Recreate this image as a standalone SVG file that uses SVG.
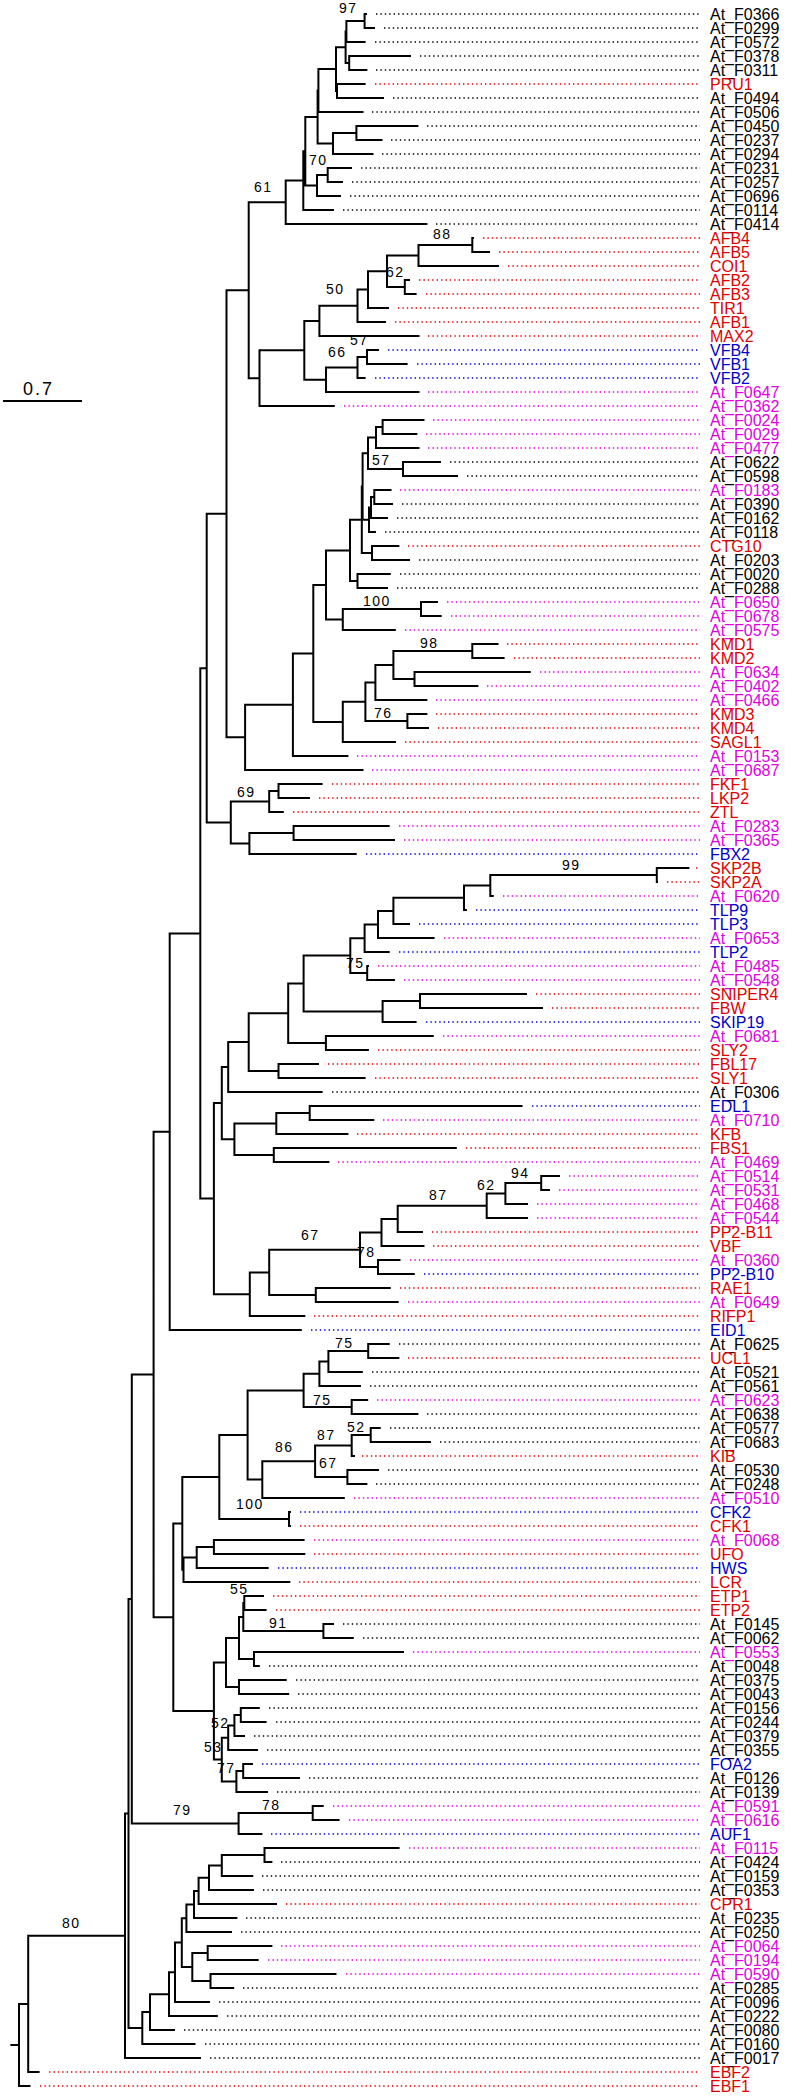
<svg xmlns="http://www.w3.org/2000/svg" width="800" height="2096" viewBox="0 0 800 2096">
<style>
.br{fill:none;stroke:#000;stroke-width:2;stroke-linecap:square}
.lf line{stroke-width:1.4;stroke-dasharray:1.4 3}
.lf text{font-family:"Liberation Sans",Arial,sans-serif;font-size:16px}
.k line{stroke:#000}.k text{fill:#000}
.r line{stroke:#e00000}.r text{fill:#e00000}
.b line{stroke:#0000c8}.b text{fill:#0000c8}
.m line{stroke:#e000e0}.m text{fill:#e000e0}
.bs{font-family:"Liberation Sans",Arial,sans-serif;font-size:14px;letter-spacing:1.5px;fill:#000}
</style>
<rect width="800" height="2096" fill="#fff"/>
<g id="scale"><line x1="3" y1="401" x2="82" y2="401" stroke="#000" stroke-width="2"/><text x="23" y="395" font-family="Liberation Sans,Arial,sans-serif" font-size="18" letter-spacing="2">0.7</text></g>
<g id="connectors">
<path class="br" d="M364.6 14V28M364.6 14H366M364.6 28H374
M346.4 21V42M346.4 21H364.6M346.4 42H364.6
M345.6 31.5V63M345.6 31.5H346.4M345.6 63H349.2
M349.2 56V70M349.2 56H410M349.2 70H366.4
M337 84V98M337 84H364.6M337 98H383
M336 47.25V91M336 47.25H345.6M336 91H337
M318.4 69.1V112M318.4 69.1H336M318.4 112H362.5
M317.6 90.55V143.5M317.6 90.55H318.4M317.6 143.5H333
M333 133V154M333 133H356.4M333 154H372.5
M356.4 126V140M356.4 126H417.4M356.4 140H381.5
M327.7 168V182M327.7 168H351M327.7 182H342
M317 175V196M317 175H327.7M317 196H340
M305.3 117V185.5M305.3 117H317.6M305.3 185.5H317
M303.3 151.25V210M303.3 151.25H305.3M303.3 210H333
M285.7 180.6V224M285.7 180.6H303.3M285.7 224H426.4
M248.7 202.3V378.2M248.7 202.3H285.7M248.7 378.2H259.5
M472.3 238V252M472.3 238H473M472.3 252H489
M418.5 245V266M418.5 245H472.3M418.5 266H498
M404.8 280V294M404.8 280H409M404.8 294H415.6
M387 255.5V287M387 255.5H418.5M387 287H404.8
M368 271.25V308M368 271.25H387M368 308H388
M357.5 289.6V322M357.5 289.6H368M357.5 322H385
M319.4 305.8V336M319.4 305.8H357.5M319.4 336H418.5
M367 350V364M367 350H378M367 364H406.6
M357.5 357V378M357.5 357H367M357.5 378H364.6
M326 367.5V392M326 367.5H357.5M326 392H418.5
M304.3 320.9V379.75M304.3 320.9H319.4M304.3 379.75H326
M259.5 350.3V406M259.5 350.3H304.3M259.5 406H333.8
M382.6 420V434M382.6 420H423.5M382.6 434H416.3
M376 427V448M376 427H382.6M376 448H418.5
M403 462V476M403 462H440M403 476H457
M368 437.5V469M368 437.5H376M368 469H403
M374.3 490V504M374.3 490H390.5M374.3 504H392
M371 497V518M371 497H374.3M371 518H387
M369 507.5V532M369 507.5H371M369 532H375
M372 546V560M372 546H398.4M372 560H409
M362.6 453.25V519.75M362.6 453.25H368M362.6 519.75H369
M361.8 486.5V553M361.8 486.5H362.6M361.8 553H372
M357.5 574V588M357.5 574H389.8M357.5 588H387
M350 519.75V581M350 519.75H361.8M350 581H357.5
M421 602V616M421 602H437M421 616H440.7
M342.8 609V630M342.8 609H421M342.8 630H394.8
M326 550.4V619.5M326 550.4H350M326 619.5H342.8
M472.3 644V658M472.3 644H497.5M472.3 658H503.6
M414.5 672V686M414.5 672H529.8M414.5 686H477.4
M393.4 651V679M393.4 651H472.3M393.4 679H414.5
M375.4 665V700M375.4 665H393.4M375.4 700H426.4
M407.4 714V728M407.4 714H426.4M407.4 728H428
M365.4 682.5V721M365.4 682.5H375.4M365.4 721H407.4
M342.8 701.75V742M342.8 701.75H365.4M342.8 742H395
M313.3 584.95V721.9M313.3 584.95H326M313.3 721.9H342.8
M292.9 653.4V756M292.9 653.4H313.3M292.9 756H347.4
M245.1 704.7V770M245.1 704.7H292.9M245.1 770H362.5
M226.5 290.25V737.35M226.5 290.25H248.7M226.5 737.35H245.1
M278.5 784V798M278.5 784H321.6M278.5 798H309
M269.2 791V812M269.2 791H278.5M269.2 812H282.8
M293.6 826V840M293.6 826H388.7M293.6 840H394
M249.4 833V854M249.4 833H293.6M249.4 854H355.7
M230.8 801.5V843.5M230.8 801.5H269.2M230.8 843.5H249.4
M206.7 513.8V822.5M206.7 513.8H226.5M206.7 822.5H230.8
M656.8 868V882M656.8 868H688.4M656.8 882H657
M490.3 875V896M490.3 875H656.8M490.3 896H492.8
M464 885.5V910M464 885.5H490.3M464 910H465.9
M393.4 897.75V924M393.4 897.75H464M393.4 924H409
M378 910.9V938M378 910.9H393.4M378 938H433.6
M364.6 924.4V952M364.6 924.4H378M364.6 952H388.7
M367.2 966V980M367.2 966H368M367.2 980H394
M350.3 938.2V973M350.3 938.2H364.6M350.3 973H367.2
M420 994V1008M420 994H526M420 1008H542
M382.6 1001V1022M382.6 1001H420M382.6 1022H415.6
M303.6 955.6V1011.5M303.6 955.6H350.3M303.6 1011.5H382.6
M325.9 1036V1050M325.9 1036H432.8M325.9 1050H367.9
M288.2 983.5V1043M288.2 983.5H303.6M288.2 1043H325.9
M278.5 1064V1078M278.5 1064H318M278.5 1078H364.6
M248.7 1013.3V1071M248.7 1013.3H288.2M248.7 1071H278.5
M228.2 1042.1V1092M228.2 1042.1H248.7M228.2 1092H321.6
M309.7 1106V1120M309.7 1106H521.5M309.7 1120H373.3
M276.3 1113V1134M276.3 1113H309.7M276.3 1134H347.4
M273.8 1148V1162M273.8 1148H455.8M273.8 1162H328.4
M234.4 1123.5V1155M234.4 1123.5H276.3M234.4 1155H273.8
M221.8 1067V1139.25M221.8 1067H228.2M221.8 1139.25H234.4
M541.2 1176V1190M541.2 1176H559M541.2 1190H549
M505.4 1183V1204M505.4 1183H541.2M505.4 1204H527
M486.7 1193.5V1218M486.7 1193.5H505.4M486.7 1218H527
M397.7 1205.75V1232M397.7 1205.75H486.7M397.7 1232H422
M381.5 1218.9V1246M381.5 1218.9H397.7M381.5 1246H423.5
M378 1260V1274M378 1260H399.5M378 1274H413.8
M360 1232.4V1267M360 1232.4H381.5M360 1267H378
M315.8 1288V1302M315.8 1288H389.8M315.8 1302H397.7
M269.2 1249.7V1295M269.2 1249.7H360M269.2 1295H315.8
M249.8 1272.4V1316M249.8 1272.4H269.2M249.8 1316H304.3
M213.9 1103.1V1294.2M213.9 1103.1H221.8M213.9 1294.2H249.8
M200.3 668.15V1198.6M200.3 668.15H206.7M200.3 1198.6H213.9
M169.7 933.4V1330M169.7 933.4H200.3M169.7 1330H300.8
M368.2 1344V1358M368.2 1344H388.7M368.2 1358H398.4
M328.4 1351V1372M328.4 1351H368.2M328.4 1372H361.8
M319.4 1361.5V1386M319.4 1361.5H328.4M319.4 1386H360
M351.7 1400V1414M351.7 1400H367.2M351.7 1414H417.4
M303.6 1373.75V1407M303.6 1373.75H319.4M303.6 1407H351.7
M370.7 1428V1442M370.7 1428H379.7M370.7 1442H430
M351.7 1435V1456M351.7 1435H370.7M351.7 1456H354
M347.4 1470V1484M347.4 1470H378M347.4 1484H366.4
M315.1 1445.5V1477M315.1 1445.5H351.7M315.1 1477H347.4
M262.3 1461.25V1498M262.3 1461.25H315.1M262.3 1498H343.8
M247.6 1390.4V1479.6M247.6 1390.4H303.6M247.6 1479.6H262.3
M289 1512V1526M289 1512H290M289 1526H290
M219.3 1435V1519M219.3 1435H247.6M219.3 1519H289
M213.9 1540V1554M213.9 1540H303.6M213.9 1554H304.3
M196.7 1547V1568M196.7 1547H213.9M196.7 1568H267.7
M183.5 1557.5V1582M183.5 1557.5H196.7M183.5 1582H289.3
M182.3 1477V1569.75M182.3 1477H219.3M182.3 1569.75H183.5
M323.4 1624V1638M323.4 1624H333M323.4 1638H352.8
M244.3 1596V1610M244.3 1596H263M244.3 1610H265.6
M243.3 1603V1631M243.3 1603H244.3M243.3 1631H323.4
M254 1652V1666M254 1652H403M254 1666H258.8
M239 1617V1659M239 1617H243.3M239 1659H254
M239 1680V1694M239 1680H285.7M239 1694H288.2
M226 1638V1687M226 1638H239M226 1687H239
M240.8 1708V1722M240.8 1708H258.8M240.8 1722H265.6
M234.4 1715V1736M234.4 1715H240.8M234.4 1736H244
M228.2 1725.5V1750M228.2 1725.5H234.4M228.2 1750H257
M243.2 1764V1778M243.2 1764H252M243.2 1778H299
M236.4 1771V1792M236.4 1771H243.2M236.4 1792H267
M221.8 1737.75V1781.5M221.8 1737.75H228.2M221.8 1781.5H236.4
M213.9 1662.5V1759.6M213.9 1662.5H226M213.9 1759.6H221.8
M173.3 1523.4V1711.05M173.3 1523.4H182.3M173.3 1711.05H213.9
M153.6 1131.7V1617.2M153.6 1131.7H169.7M153.6 1617.2H173.3
M312.7 1806V1820M312.7 1806H322.7M312.7 1820H338.6
M238.6 1813V1834M238.6 1813H312.7M238.6 1834H261.4
M131.8 1374.45V1823.5M131.8 1374.45H153.6M131.8 1823.5H238.6
M264.5 1848V1862M264.5 1848H398.6M264.5 1862H271.4
M221.8 1855V1876M221.8 1855H264.5M221.8 1876H252.3
M209 1865.5V1890M209 1865.5H221.8M209 1890H253
M198.6 1877.75V1904M198.6 1877.75H209M198.6 1904H276
M194 1890.9V1918M194 1890.9H198.6M194 1918H236.4
M186.4 1904.4V1932M186.4 1904.4H194M186.4 1932H231
M207.7 1946V1960M207.7 1946H271.4M207.7 1960H257.7
M210.5 1974V1988M210.5 1974H335.5M210.5 1988H233.2
M192.3 1953V1981M192.3 1953H207.7M192.3 1981H210.5
M181.8 1918.2V1967M181.8 1918.2H186.4M181.8 1967H192.3
M175 1942.6V2002M175 1942.6H181.8M175 2002H209
M169 1972.3V2016M169 1972.3H175M169 2016H216.8
M150 1994.2V2030M150 1994.2H169M150 2030H174
M142.3 2012.1V2044M142.3 2012.1H150M142.3 2044H194.5
M128.5 1599V2028M128.5 1599H131.8M128.5 2028H142.3
M125 1813.5V2058M125 1813.5H128.5M125 2058H200
M28.2 1935.75V2072M28.2 1935.75H125M28.2 2072H38.6
M19 2003.9V2086M19 2003.9H28.2M19 2086H29.5M11.4 2045H19"/>
</g>
<g id="bootstrap" class="bs">
<text x="339" y="13">97</text><text x="309" y="165">70</text><text x="254" y="192">61</text>
<text x="433" y="239">88</text><text x="386" y="277">62</text><text x="326" y="294">50</text>
<text x="350" y="345">57</text><text x="328" y="357">66</text><text x="372" y="465">57</text>
<text x="363" y="606">100</text><text x="420" y="648">98</text><text x="374" y="718">76</text>
<text x="237" y="797">69</text><text x="562" y="870">99</text><text x="346" y="968">75</text>
<text x="511" y="1178">94</text><text x="477" y="1190">62</text><text x="429" y="1200">87</text>
<text x="301" y="1240">67</text><text x="357" y="1257">78</text><text x="335" y="1348">75</text>
<text x="313" y="1405">75</text><text x="347" y="1432">52</text><text x="317" y="1440">87</text>
<text x="275" y="1452">86</text><text x="319" y="1468">67</text><text x="236" y="1509">100</text>
<text x="230" y="1594">55</text><text x="269" y="1628">91</text><text x="211" y="1728">52</text>
<text x="204" y="1752">53</text><text x="217" y="1773">77</text><text x="262" y="1810">78</text>
<text x="173" y="1815">79</text><text x="62" y="1928">80</text>
</g>
<g id="leaves">
<g id="L1" class="lf k"><line x1="376" y1="14" x2="700" y2="14"/><text x="710" y="19.5">At_F0366</text></g>
<g id="L2" class="lf k"><line x1="384" y1="28" x2="700" y2="28"/><text x="710" y="33.5">At_F0299</text></g>
<g id="L3" class="lf k"><line x1="375" y1="42" x2="700" y2="42"/><text x="710" y="47.5">At_F0572</text></g>
<g id="L4" class="lf k"><line x1="420" y1="56" x2="700" y2="56"/><text x="710" y="61.5">At_F0378</text></g>
<g id="L5" class="lf k"><line x1="376" y1="70" x2="700" y2="70"/><text x="710" y="75.5">At_F0311</text></g>
<g id="L6" class="lf r"><line x1="375" y1="84" x2="700" y2="84"/><text x="710" y="89.5">PRU1</text></g>
<g id="L7" class="lf k"><line x1="393" y1="98" x2="700" y2="98"/><text x="710" y="103.5">At_F0494</text></g>
<g id="L8" class="lf k"><line x1="372" y1="112" x2="700" y2="112"/><text x="710" y="117.5">At_F0506</text></g>
<g id="L9" class="lf k"><line x1="427" y1="126" x2="700" y2="126"/><text x="710" y="131.5">At_F0450</text></g>
<g id="L10" class="lf k"><line x1="391" y1="140" x2="700" y2="140"/><text x="710" y="145.5">At_F0237</text></g>
<g id="L11" class="lf k"><line x1="382" y1="154" x2="700" y2="154"/><text x="710" y="159.5">At_F0294</text></g>
<g id="L12" class="lf k"><line x1="361" y1="168" x2="700" y2="168"/><text x="710" y="173.5">At_F0231</text></g>
<g id="L13" class="lf k"><line x1="352" y1="182" x2="700" y2="182"/><text x="710" y="187.5">At_F0257</text></g>
<g id="L14" class="lf k"><line x1="350" y1="196" x2="700" y2="196"/><text x="710" y="201.5">At_F0696</text></g>
<g id="L15" class="lf k"><line x1="343" y1="210" x2="700" y2="210"/><text x="710" y="215.5">At_F0114</text></g>
<g id="L16" class="lf k"><line x1="436" y1="224" x2="700" y2="224"/><text x="710" y="229.5">At_F0414</text></g>
<g id="L17" class="lf r"><line x1="483" y1="238" x2="700" y2="238"/><text x="710" y="243.5">AFB4</text></g>
<g id="L18" class="lf r"><line x1="499" y1="252" x2="700" y2="252"/><text x="710" y="257.5">AFB5</text></g>
<g id="L19" class="lf r"><line x1="508" y1="266" x2="700" y2="266"/><text x="710" y="271.5">COI1</text></g>
<g id="L20" class="lf r"><line x1="419" y1="280" x2="700" y2="280"/><text x="710" y="285.5">AFB2</text></g>
<g id="L21" class="lf r"><line x1="426" y1="294" x2="700" y2="294"/><text x="710" y="299.5">AFB3</text></g>
<g id="L22" class="lf r"><line x1="398" y1="308" x2="700" y2="308"/><text x="710" y="313.5">TIR1</text></g>
<g id="L23" class="lf r"><line x1="395" y1="322" x2="700" y2="322"/><text x="710" y="327.5">AFB1</text></g>
<g id="L24" class="lf r"><line x1="428" y1="336" x2="700" y2="336"/><text x="710" y="341.5">MAX2</text></g>
<g id="L25" class="lf b"><line x1="388" y1="350" x2="700" y2="350"/><text x="710" y="355.5">VFB4</text></g>
<g id="L26" class="lf b"><line x1="417" y1="364" x2="700" y2="364"/><text x="710" y="369.5">VFB1</text></g>
<g id="L27" class="lf b"><line x1="375" y1="378" x2="700" y2="378"/><text x="710" y="383.5">VFB2</text></g>
<g id="L28" class="lf m"><line x1="428" y1="392" x2="700" y2="392"/><text x="710" y="397.5">At_F0647</text></g>
<g id="L29" class="lf m"><line x1="344" y1="406" x2="700" y2="406"/><text x="710" y="411.5">At_F0362</text></g>
<g id="L30" class="lf m"><line x1="433" y1="420" x2="700" y2="420"/><text x="710" y="425.5">At_F0024</text></g>
<g id="L31" class="lf m"><line x1="426" y1="434" x2="700" y2="434"/><text x="710" y="439.5">At_F0029</text></g>
<g id="L32" class="lf m"><line x1="428" y1="448" x2="700" y2="448"/><text x="710" y="453.5">At_F0477</text></g>
<g id="L33" class="lf k"><line x1="450" y1="462" x2="700" y2="462"/><text x="710" y="467.5">At_F0622</text></g>
<g id="L34" class="lf k"><line x1="467" y1="476" x2="700" y2="476"/><text x="710" y="481.5">At_F0598</text></g>
<g id="L35" class="lf m"><line x1="400" y1="490" x2="700" y2="490"/><text x="710" y="495.5">At_F0183</text></g>
<g id="L36" class="lf k"><line x1="402" y1="504" x2="700" y2="504"/><text x="710" y="509.5">At_F0390</text></g>
<g id="L37" class="lf k"><line x1="397" y1="518" x2="700" y2="518"/><text x="710" y="523.5">At_F0162</text></g>
<g id="L38" class="lf k"><line x1="385" y1="532" x2="700" y2="532"/><text x="710" y="537.5">At_F0118</text></g>
<g id="L39" class="lf r"><line x1="408" y1="546" x2="700" y2="546"/><text x="710" y="551.5">CTG10</text></g>
<g id="L40" class="lf k"><line x1="419" y1="560" x2="700" y2="560"/><text x="710" y="565.5">At_F0203</text></g>
<g id="L41" class="lf k"><line x1="400" y1="574" x2="700" y2="574"/><text x="710" y="579.5">At_F0020</text></g>
<g id="L42" class="lf k"><line x1="397" y1="588" x2="700" y2="588"/><text x="710" y="593.5">At_F0288</text></g>
<g id="L43" class="lf m"><line x1="447" y1="602" x2="700" y2="602"/><text x="710" y="607.5">At_F0650</text></g>
<g id="L44" class="lf m"><line x1="451" y1="616" x2="700" y2="616"/><text x="710" y="621.5">At_F0678</text></g>
<g id="L45" class="lf m"><line x1="405" y1="630" x2="700" y2="630"/><text x="710" y="635.5">At_F0575</text></g>
<g id="L46" class="lf r"><line x1="507" y1="644" x2="700" y2="644"/><text x="710" y="649.5">KMD1</text></g>
<g id="L47" class="lf r"><line x1="514" y1="658" x2="700" y2="658"/><text x="710" y="663.5">KMD2</text></g>
<g id="L48" class="lf m"><line x1="540" y1="672" x2="700" y2="672"/><text x="710" y="677.5">At_F0634</text></g>
<g id="L49" class="lf m"><line x1="487" y1="686" x2="700" y2="686"/><text x="710" y="691.5">At_F0402</text></g>
<g id="L50" class="lf m"><line x1="436" y1="700" x2="700" y2="700"/><text x="710" y="705.5">At_F0466</text></g>
<g id="L51" class="lf r"><line x1="436" y1="714" x2="700" y2="714"/><text x="710" y="719.5">KMD3</text></g>
<g id="L52" class="lf r"><line x1="438" y1="728" x2="700" y2="728"/><text x="710" y="733.5">KMD4</text></g>
<g id="L53" class="lf r"><line x1="405" y1="742" x2="700" y2="742"/><text x="710" y="747.5">SAGL1</text></g>
<g id="L54" class="lf m"><line x1="357" y1="756" x2="700" y2="756"/><text x="710" y="761.5">At_F0153</text></g>
<g id="L55" class="lf m"><line x1="372" y1="770" x2="700" y2="770"/><text x="710" y="775.5">At_F0687</text></g>
<g id="L56" class="lf r"><line x1="332" y1="784" x2="700" y2="784"/><text x="710" y="789.5">FKF1</text></g>
<g id="L57" class="lf r"><line x1="319" y1="798" x2="700" y2="798"/><text x="710" y="803.5">LKP2</text></g>
<g id="L58" class="lf r"><line x1="293" y1="812" x2="700" y2="812"/><text x="710" y="817.5">ZTL</text></g>
<g id="L59" class="lf m"><line x1="399" y1="826" x2="700" y2="826"/><text x="710" y="831.5">At_F0283</text></g>
<g id="L60" class="lf m"><line x1="404" y1="840" x2="700" y2="840"/><text x="710" y="845.5">At_F0365</text></g>
<g id="L61" class="lf b"><line x1="366" y1="854" x2="700" y2="854"/><text x="710" y="859.5">FBX2</text></g>
<g id="L62" class="lf r"><line x1="696" y1="868" x2="700" y2="868"/><text x="710" y="873.5">SKP2B</text></g>
<g id="L63" class="lf r"><line x1="667" y1="882" x2="700" y2="882"/><text x="710" y="887.5">SKP2A</text></g>
<g id="L64" class="lf m"><line x1="503" y1="896" x2="700" y2="896"/><text x="710" y="901.5">At_F0620</text></g>
<g id="L65" class="lf b"><line x1="476" y1="910" x2="700" y2="910"/><text x="710" y="915.5">TLP9</text></g>
<g id="L66" class="lf b"><line x1="419" y1="924" x2="700" y2="924"/><text x="710" y="929.5">TLP3</text></g>
<g id="L67" class="lf m"><line x1="444" y1="938" x2="700" y2="938"/><text x="710" y="943.5">At_F0653</text></g>
<g id="L68" class="lf b"><line x1="399" y1="952" x2="700" y2="952"/><text x="710" y="957.5">TLP2</text></g>
<g id="L69" class="lf m"><line x1="378" y1="966" x2="700" y2="966"/><text x="710" y="971.5">At_F0485</text></g>
<g id="L70" class="lf m"><line x1="404" y1="980" x2="700" y2="980"/><text x="710" y="985.5">At_F0548</text></g>
<g id="L71" class="lf r"><line x1="536" y1="994" x2="700" y2="994"/><text x="710" y="999.5">SNIPER4</text></g>
<g id="L72" class="lf r"><line x1="552" y1="1008" x2="700" y2="1008"/><text x="710" y="1013.5">FBW</text></g>
<g id="L73" class="lf b"><line x1="426" y1="1022" x2="700" y2="1022"/><text x="710" y="1027.5">SKIP19</text></g>
<g id="L74" class="lf m"><line x1="443" y1="1036" x2="700" y2="1036"/><text x="710" y="1041.5">At_F0681</text></g>
<g id="L75" class="lf r"><line x1="378" y1="1050" x2="700" y2="1050"/><text x="710" y="1055.5">SLY2</text></g>
<g id="L76" class="lf r"><line x1="328" y1="1064" x2="700" y2="1064"/><text x="710" y="1069.5">FBL17</text></g>
<g id="L77" class="lf r"><line x1="375" y1="1078" x2="700" y2="1078"/><text x="710" y="1083.5">SLY1</text></g>
<g id="L78" class="lf k"><line x1="332" y1="1092" x2="700" y2="1092"/><text x="710" y="1097.5">At_F0306</text></g>
<g id="L79" class="lf b"><line x1="532" y1="1106" x2="700" y2="1106"/><text x="710" y="1111.5">EDL1</text></g>
<g id="L80" class="lf m"><line x1="383" y1="1120" x2="700" y2="1120"/><text x="710" y="1125.5">At_F0710</text></g>
<g id="L81" class="lf r"><line x1="357" y1="1134" x2="700" y2="1134"/><text x="710" y="1139.5">KFB</text></g>
<g id="L82" class="lf r"><line x1="466" y1="1148" x2="700" y2="1148"/><text x="710" y="1153.5">FBS1</text></g>
<g id="L83" class="lf m"><line x1="338" y1="1162" x2="700" y2="1162"/><text x="710" y="1167.5">At_F0469</text></g>
<g id="L84" class="lf m"><line x1="569" y1="1176" x2="700" y2="1176"/><text x="710" y="1181.5">At_F0514</text></g>
<g id="L85" class="lf m"><line x1="559" y1="1190" x2="700" y2="1190"/><text x="710" y="1195.5">At_F0531</text></g>
<g id="L86" class="lf m"><line x1="537" y1="1204" x2="700" y2="1204"/><text x="710" y="1209.5">At_F0468</text></g>
<g id="L87" class="lf m"><line x1="537" y1="1218" x2="700" y2="1218"/><text x="710" y="1223.5">At_F0544</text></g>
<g id="L88" class="lf r"><line x1="432" y1="1232" x2="700" y2="1232"/><text x="710" y="1237.5">PP2-B11</text></g>
<g id="L89" class="lf r"><line x1="433" y1="1246" x2="700" y2="1246"/><text x="710" y="1251.5">VBF</text></g>
<g id="L90" class="lf m"><line x1="410" y1="1260" x2="700" y2="1260"/><text x="710" y="1265.5">At_F0360</text></g>
<g id="L91" class="lf b"><line x1="424" y1="1274" x2="700" y2="1274"/><text x="710" y="1279.5">PP2-B10</text></g>
<g id="L92" class="lf r"><line x1="400" y1="1288" x2="700" y2="1288"/><text x="710" y="1293.5">RAE1</text></g>
<g id="L93" class="lf m"><line x1="408" y1="1302" x2="700" y2="1302"/><text x="710" y="1307.5">At_F0649</text></g>
<g id="L94" class="lf r"><line x1="314" y1="1316" x2="700" y2="1316"/><text x="710" y="1321.5">RIFP1</text></g>
<g id="L95" class="lf b"><line x1="311" y1="1330" x2="700" y2="1330"/><text x="710" y="1335.5">EID1</text></g>
<g id="L96" class="lf k"><line x1="399" y1="1344" x2="700" y2="1344"/><text x="710" y="1349.5">At_F0625</text></g>
<g id="L97" class="lf r"><line x1="408" y1="1358" x2="700" y2="1358"/><text x="710" y="1363.5">UCL1</text></g>
<g id="L98" class="lf k"><line x1="372" y1="1372" x2="700" y2="1372"/><text x="710" y="1377.5">At_F0521</text></g>
<g id="L99" class="lf k"><line x1="370" y1="1386" x2="700" y2="1386"/><text x="710" y="1391.5">At_F0561</text></g>
<g id="L100" class="lf m"><line x1="377" y1="1400" x2="700" y2="1400"/><text x="710" y="1405.5">At_F0623</text></g>
<g id="L101" class="lf k"><line x1="427" y1="1414" x2="700" y2="1414"/><text x="710" y="1419.5">At_F0638</text></g>
<g id="L102" class="lf k"><line x1="390" y1="1428" x2="700" y2="1428"/><text x="710" y="1433.5">At_F0577</text></g>
<g id="L103" class="lf k"><line x1="440" y1="1442" x2="700" y2="1442"/><text x="710" y="1447.5">At_F0683</text></g>
<g id="L104" class="lf r"><line x1="362" y1="1456" x2="700" y2="1456"/><text x="710" y="1461.5">KIB</text></g>
<g id="L105" class="lf k"><line x1="388" y1="1470" x2="700" y2="1470"/><text x="710" y="1475.5">At_F0530</text></g>
<g id="L106" class="lf k"><line x1="376" y1="1484" x2="700" y2="1484"/><text x="710" y="1489.5">At_F0248</text></g>
<g id="L107" class="lf m"><line x1="354" y1="1498" x2="700" y2="1498"/><text x="710" y="1503.5">At_F0510</text></g>
<g id="L108" class="lf b"><line x1="300" y1="1512" x2="700" y2="1512"/><text x="710" y="1517.5">CFK2</text></g>
<g id="L109" class="lf r"><line x1="300" y1="1526" x2="700" y2="1526"/><text x="710" y="1531.5">CFK1</text></g>
<g id="L110" class="lf m"><line x1="314" y1="1540" x2="700" y2="1540"/><text x="710" y="1545.5">At_F0068</text></g>
<g id="L111" class="lf r"><line x1="314" y1="1554" x2="700" y2="1554"/><text x="710" y="1559.5">UFO</text></g>
<g id="L112" class="lf b"><line x1="278" y1="1568" x2="700" y2="1568"/><text x="710" y="1573.5">HWS</text></g>
<g id="L113" class="lf r"><line x1="299" y1="1582" x2="700" y2="1582"/><text x="710" y="1587.5">LCR</text></g>
<g id="L114" class="lf r"><line x1="273" y1="1596" x2="700" y2="1596"/><text x="710" y="1601.5">ETP1</text></g>
<g id="L115" class="lf r"><line x1="276" y1="1610" x2="700" y2="1610"/><text x="710" y="1615.5">ETP2</text></g>
<g id="L116" class="lf k"><line x1="343" y1="1624" x2="700" y2="1624"/><text x="710" y="1629.5">At_F0145</text></g>
<g id="L117" class="lf k"><line x1="363" y1="1638" x2="700" y2="1638"/><text x="710" y="1643.5">At_F0062</text></g>
<g id="L118" class="lf m"><line x1="413" y1="1652" x2="700" y2="1652"/><text x="710" y="1657.5">At_F0553</text></g>
<g id="L119" class="lf k"><line x1="269" y1="1666" x2="700" y2="1666"/><text x="710" y="1671.5">At_F0048</text></g>
<g id="L120" class="lf k"><line x1="296" y1="1680" x2="700" y2="1680"/><text x="710" y="1685.5">At_F0375</text></g>
<g id="L121" class="lf k"><line x1="298" y1="1694" x2="700" y2="1694"/><text x="710" y="1699.5">At_F0043</text></g>
<g id="L122" class="lf k"><line x1="269" y1="1708" x2="700" y2="1708"/><text x="710" y="1713.5">At_F0156</text></g>
<g id="L123" class="lf k"><line x1="276" y1="1722" x2="700" y2="1722"/><text x="710" y="1727.5">At_F0244</text></g>
<g id="L124" class="lf k"><line x1="254" y1="1736" x2="700" y2="1736"/><text x="710" y="1741.5">At_F0379</text></g>
<g id="L125" class="lf k"><line x1="267" y1="1750" x2="700" y2="1750"/><text x="710" y="1755.5">At_F0355</text></g>
<g id="L126" class="lf b"><line x1="262" y1="1764" x2="700" y2="1764"/><text x="710" y="1769.5">FOA2</text></g>
<g id="L127" class="lf k"><line x1="309" y1="1778" x2="700" y2="1778"/><text x="710" y="1783.5">At_F0126</text></g>
<g id="L128" class="lf k"><line x1="277" y1="1792" x2="700" y2="1792"/><text x="710" y="1797.5">At_F0139</text></g>
<g id="L129" class="lf m"><line x1="333" y1="1806" x2="700" y2="1806"/><text x="710" y="1811.5">At_F0591</text></g>
<g id="L130" class="lf m"><line x1="349" y1="1820" x2="700" y2="1820"/><text x="710" y="1825.5">At_F0616</text></g>
<g id="L131" class="lf b"><line x1="271" y1="1834" x2="700" y2="1834"/><text x="710" y="1839.5">AUF1</text></g>
<g id="L132" class="lf m"><line x1="409" y1="1848" x2="700" y2="1848"/><text x="710" y="1853.5">At_F0115</text></g>
<g id="L133" class="lf k"><line x1="281" y1="1862" x2="700" y2="1862"/><text x="710" y="1867.5">At_F0424</text></g>
<g id="L134" class="lf k"><line x1="262" y1="1876" x2="700" y2="1876"/><text x="710" y="1881.5">At_F0159</text></g>
<g id="L135" class="lf k"><line x1="263" y1="1890" x2="700" y2="1890"/><text x="710" y="1895.5">At_F0353</text></g>
<g id="L136" class="lf r"><line x1="286" y1="1904" x2="700" y2="1904"/><text x="710" y="1909.5">CPR1</text></g>
<g id="L137" class="lf k"><line x1="246" y1="1918" x2="700" y2="1918"/><text x="710" y="1923.5">At_F0235</text></g>
<g id="L138" class="lf k"><line x1="241" y1="1932" x2="700" y2="1932"/><text x="710" y="1937.5">At_F0250</text></g>
<g id="L139" class="lf m"><line x1="281" y1="1946" x2="700" y2="1946"/><text x="710" y="1951.5">At_F0064</text></g>
<g id="L140" class="lf m"><line x1="268" y1="1960" x2="700" y2="1960"/><text x="710" y="1965.5">At_F0194</text></g>
<g id="L141" class="lf m"><line x1="346" y1="1974" x2="700" y2="1974"/><text x="710" y="1979.5">At_F0590</text></g>
<g id="L142" class="lf k"><line x1="243" y1="1988" x2="700" y2="1988"/><text x="710" y="1993.5">At_F0285</text></g>
<g id="L143" class="lf k"><line x1="219" y1="2002" x2="700" y2="2002"/><text x="710" y="2007.5">At_F0096</text></g>
<g id="L144" class="lf k"><line x1="227" y1="2016" x2="700" y2="2016"/><text x="710" y="2021.5">At_F0222</text></g>
<g id="L145" class="lf k"><line x1="184" y1="2030" x2="700" y2="2030"/><text x="710" y="2035.5">At_F0080</text></g>
<g id="L146" class="lf k"><line x1="205" y1="2044" x2="700" y2="2044"/><text x="710" y="2049.5">At_F0160</text></g>
<g id="L147" class="lf k"><line x1="210" y1="2058" x2="700" y2="2058"/><text x="710" y="2063.5">At_F0017</text></g>
<g id="L148" class="lf r"><line x1="49" y1="2072" x2="700" y2="2072"/><text x="710" y="2077.5">EBF2</text></g>
<g id="L149" class="lf r"><line x1="40" y1="2086" x2="700" y2="2086"/><text x="710" y="2091.5">EBF1</text></g>
</g>
</svg>
